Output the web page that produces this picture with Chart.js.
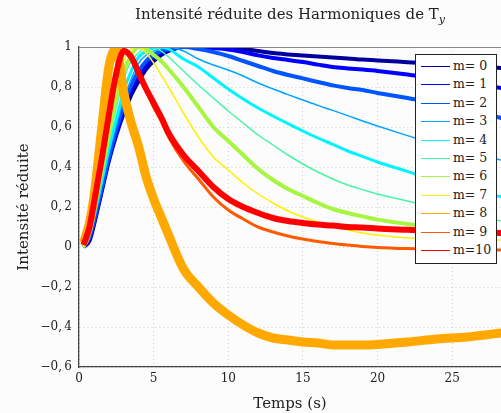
<!DOCTYPE html>
<html>
<head>
<meta charset="utf-8">
<script src="https://cdn.jsdelivr.net/npm/chart.js@4"></script>
<style>
  html, body { margin: 0; padding: 0; background: #fcfcfc; }
  #cadre { position: relative; width: 501px; height: 413px; overflow: hidden; }
  #titre {
    position: absolute; top: 5px; left: 79px; width: 422px; text-align: center;
    font: 15px "DejaVu Serif", serif; color: #222;
  }
  #titre sub { font-style: italic; font-size: 11px; }
  #legende {
    position: absolute; left: 415px; top: 54px; width: 80px; height: 206px;
    border: 1px solid #222; background: #fff; padding-top: 2px; box-sizing: content-box;
    font: 12.5px "DejaVu Serif", serif; color: #222;
  }
  .item { height: 18.4px; line-height: 18.4px; white-space: nowrap; }
  .trait { display: inline-block; width: 29px; height: 0; border-top: 1px solid; vertical-align: middle; margin: 0 3px 0 5px; }
</style>
</head>
<body>
<div id="cadre">
  <canvas id="graphe" width="501" height="413"></canvas>
  <div id="titre">Intensité réduite des Harmoniques de T<sub>y</sub></div>
  <div id="legende"></div>
</div>
<script>
// temps (s) ou les courbes ont ete relevees
const temps = [0.3, 0.7, 1, 1.5, 2, 2.5, 3, 3.5, 4, 4.5, 5, 5.5, 6, 7, 8, 9, 10, 11, 12, 13, 14, 15, 16, 17, 18, 19, 20, 22, 24, 26, 28.3];

const m0  = [0, 0.03, 0.11, 0.27, 0.43, 0.56, 0.67, 0.76, 0.83, 0.89, 0.93, 0.96, 0.98, 1.0, 1.0, 1.0, 0.995, 0.99, 0.98, 0.97, 0.963, 0.957, 0.952, 0.948, 0.943, 0.937, 0.933, 0.924, 0.915, 0.905, 0.895];
const m1  = [0, 0.04, 0.12, 0.28, 0.44, 0.57, 0.69, 0.79, 0.86, 0.91, 0.95, 0.97, 0.985, 1.0, 1.0, 0.995, 0.988, 0.975, 0.958, 0.945, 0.935, 0.925, 0.912, 0.9, 0.893, 0.887, 0.88, 0.862, 0.84, 0.82, 0.795];
const m2  = [0, 0.05, 0.13, 0.29, 0.45, 0.59, 0.71, 0.81, 0.88, 0.93, 0.96, 0.98, 0.99, 1.0, 0.99, 0.975, 0.955, 0.93, 0.905, 0.88, 0.86, 0.843, 0.825, 0.808, 0.795, 0.785, 0.77, 0.745, 0.715, 0.685, 0.645];
const m3  = [0, 0.05, 0.14, 0.30, 0.47, 0.61, 0.74, 0.84, 0.92, 0.96, 0.98, 0.99, 1.0, 0.98, 0.94, 0.91, 0.885, 0.855, 0.82, 0.79, 0.762, 0.735, 0.708, 0.683, 0.657, 0.63, 0.605, 0.557, 0.51, 0.47, 0.435];
const m4  = [0, 0.06, 0.15, 0.32, 0.49, 0.64, 0.78, 0.88, 0.95, 0.98, 0.995, 1.0, 0.99, 0.94, 0.90, 0.845, 0.79, 0.74, 0.695, 0.655, 0.617, 0.58, 0.545, 0.513, 0.48, 0.453, 0.425, 0.378, 0.33, 0.29, 0.25];
const m5  = [0, 0.07, 0.16, 0.34, 0.52, 0.70, 0.84, 0.93, 0.97, 1.0, 1.0, 0.98, 0.95, 0.88, 0.81, 0.745, 0.68, 0.62, 0.56, 0.51, 0.46, 0.415, 0.375, 0.34, 0.31, 0.287, 0.265, 0.23, 0.195, 0.16, 0.13];
const m6  = [0, 0.08, 0.18, 0.37, 0.56, 0.75, 0.88, 0.96, 1.0, 0.99, 0.96, 0.93, 0.89, 0.80, 0.70, 0.60, 0.53, 0.46, 0.39, 0.335, 0.29, 0.255, 0.22, 0.19, 0.17, 0.153, 0.137, 0.115, 0.10, 0.085, 0.075];
const m7  = [0, 0.09, 0.19, 0.39, 0.60, 0.80, 0.93, 0.99, 1.0, 0.97, 0.92, 0.86, 0.80, 0.67, 0.55, 0.45, 0.385, 0.32, 0.265, 0.22, 0.18, 0.15, 0.125, 0.10, 0.085, 0.07, 0.06, 0.045, 0.04, 0.037, 0.035];
const m8  = [0.02, 0.12, 0.25, 0.58, 0.90, 0.99, 0.77, 0.62, 0.50, 0.35, 0.24, 0.15, 0.06, -0.11, -0.20, -0.28, -0.34, -0.39, -0.43, -0.455, -0.465, -0.475, -0.48, -0.49, -0.49, -0.49, -0.487, -0.475, -0.46, -0.45, -0.43];
const m9  = [0.01, 0.10, 0.21, 0.42, 0.67, 0.89, 0.99, 0.95, 0.87, 0.78, 0.70, 0.63, 0.55, 0.43, 0.34, 0.25, 0.185, 0.14, 0.10, 0.075, 0.055, 0.04, 0.028, 0.018, 0.01, 0.003, -0.002, -0.008, -0.012, -0.014, -0.015];
const m10 = [0.01, 0.10, 0.22, 0.43, 0.66, 0.87, 0.98, 0.95, 0.87, 0.79, 0.72, 0.65, 0.57, 0.46, 0.38, 0.30, 0.24, 0.20, 0.17, 0.145, 0.13, 0.12, 0.112, 0.107, 0.10, 0.097, 0.092, 0.086, 0.08, 0.075, 0.07];

const series = [m0, m1, m2, m3, m4, m5, m6, m7, m8, m9, m10];
const noms = ['m= 0', 'm= 1', 'm= 2', 'm= 3', 'm= 4', 'm= 5', 'm= 6', 'm= 7', 'm= 8', 'm= 9', 'm=10'];
const xTicks = [0, 5, 10, 15, 20, 25];
const yTicks = [-0.6, -0.4, -0.2, 0, 0.2, 0.4, 0.6, 0.8, 1];

// styles
const couleurs = ['#00009c', '#0000ff', '#0055ff', '#00a6ff', '#00f4ff', '#48f5a8', '#a6f540', '#fff000', '#ffa800', '#ff5a00', '#ff0000'];
const epaisseurs = [4, 4, 4, 1.5, 3, 1.5, 4, 1.5, 9, 3, 6];

const police = { family: '"DejaVu Serif", serif', size: 12 };
const policeTitre = { family: '"DejaVu Serif", serif', size: 15 };

const formatY = v => {
    if (v === 0 || v === 1) return String(v);
    return v.toFixed(1).replace('-', '\u2212').replace('.', ',\u2009');
};

const cadreHaut = {
    id: 'cadreHaut',
    afterDatasetsDraw(chart) {
        const { ctx, chartArea: a } = chart;
        ctx.save();
        ctx.strokeStyle = '#888';
        ctx.lineWidth = 1;
        ctx.beginPath();
        ctx.moveTo(a.left, a.top + 0.5);
        ctx.lineTo(a.right, a.top + 0.5);
        ctx.stroke();
        ctx.restore();
    }
};

new Chart(document.getElementById('graphe'), {
    type: 'line',
    data: {
        datasets: series.map((s, i) => ({
            label: noms[i],
            data: temps.map((t, k) => ({ x: t, y: s[k] })),
            borderColor: couleurs[i],
            borderWidth: epaisseurs[i],
            pointRadius: 0,
            cubicInterpolationMode: 'monotone',
            fill: false,
            clip: 0,
            order: 10 - i
        }))
    },
    options: {
        responsive: false,
        animation: false,
        layout: { padding: { top: 47, right: 0, left: 0, bottom: 0 } },
        plugins: {
            legend: { display: false },
            tooltip: { enabled: false },
            title: { display: false }
        },
        scales: {
            x: {
                type: 'linear',
                min: 0,
                max: 28.27,
                afterBuildTicks: s => { s.ticks = xTicks.map(v => ({ value: v })); },
                afterFit: s => { s.height = 46; },
                ticks: { font: police, color: '#222', padding: 5, maxRotation: 0 },
                grid: { color: '#d0d0d0', drawTicks: false },
                border: { color: '#444', width: 1.3, dash: [1, 3] },
                title: { display: true, text: 'Temps (s)', font: policeTitre, color: '#222', padding: { top: 0, bottom: 0 } }
            },
            y: {
                min: -0.6,
                max: 1,
                afterBuildTicks: s => { s.ticks = yTicks.map(v => ({ value: v })); },
                afterFit: s => { s.width = 79; },
                ticks: { font: police, color: '#222', padding: 7, callback: v => formatY(v) },
                grid: { color: '#d0d0d0', drawTicks: false },
                border: { color: '#444', width: 1.3, dash: [1, 3] },
                title: { display: true, text: 'Intensité réduite', font: policeTitre, color: '#222', padding: { top: 15, bottom: 0 } }
            }
        }
    },
    plugins: [cadreHaut]
});

// legende
const legende = document.getElementById('legende');
noms.forEach((n, i) => {
    const d = document.createElement('div');
    d.className = 'item';
    d.innerHTML = '<span class="trait" style="border-color:' + couleurs[i] + '"></span>' + n;
    legende.appendChild(d);
});
</script>
</body>
</html>
